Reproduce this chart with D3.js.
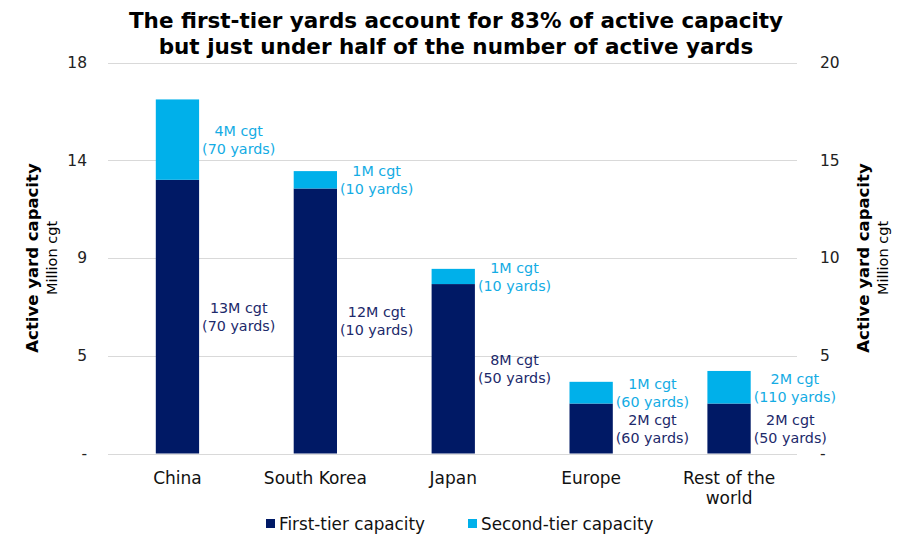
<!DOCTYPE html>
<html>
<head>
<meta charset="utf-8">
<script src="https://cdn.jsdelivr.net/npm/d3@7"></script>
<style>
  body { margin: 0; background: #fff; }
  svg { display: block; font-family: "DejaVu Sans", Verdana, sans-serif; }
</style>
</head>
<body>
<div id="chart"></div>
<script>
// Values (million cgt)
const categories = ["China", "South Korea", "Japan", "Europe", "Rest of the world"];
const firstTier = [12.6, 12.2, 7.8, 2.3, 2.3];
const secondTier = [3.7, 0.8, 0.7, 1.0, 1.5];
const firstLabels = ["13M cgt", "12M cgt", "8M cgt", "2M cgt", "2M cgt"];
const firstYards = ["(70 yards)", "(10 yards)", "(50 yards)", "(60 yards)", "(50 yards)"];
const secondLabels = ["4M cgt", "1M cgt", "1M cgt", "1M cgt", "2M cgt"];
const secondYards = ["(70 yards)", "(10 yards)", "(10 yards)", "(60 yards)", "(110 yards)"];
const leftTicks = [0, 4.5, 9, 13.5, 18];
const rightTicks = [0, 5, 10, 15, 20];
const seriesNames = ["First-tier capacity", "Second-tier capacity"];

const W = 903, H = 538;
const darkBlue = "#001965";
const lightBlue = "#00b0ea";
const darkText = "#1d2a6b";
const lightText = "#14ace4";

const svg = d3.select("#chart").append("svg")
  .attr("width", W)
  .attr("height", H);

const x = d3.scaleBand()
  .domain(categories)
  .range([108.5, 798])
  .paddingInner(0.686)
  .paddingOuter(0.343);

const yLeft = d3.scaleLinear().domain([0, 18]).range([453.5, 62.5]);
const yRight = d3.scaleLinear().domain([0, 20]).range([453.5, 62.5]);

// Title
const title = svg.append("text")
  .attr("x", 456)
  .attr("text-anchor", "middle")
  .attr("font-weight", "bold")
  .attr("font-size", 21.5)
  .attr("fill", "#000");
title.append("tspan").attr("x", 456).attr("y", 28)
  .text("The first-tier yards account for 83% of active capacity");
title.append("tspan").attr("x", 456).attr("y", 54)
  .text("but just under half of the number of active yards");

// Gridlines
svg.append("g")
  .selectAll("line")
  .data(leftTicks)
  .join("line")
  .attr("x1", 108)
  .attr("x2", 797)
  .attr("y1", d => Math.round(yLeft(d)) + 0.5)
  .attr("y2", d => Math.round(yLeft(d)) + 0.5)
  .attr("stroke", "#d9d9d9")
  .attr("stroke-width", 1);

// Left axis
const leftAxis = svg.append("g")
  .attr("transform", "translate(94,0)")
  .call(d3.axisLeft(yLeft).tickValues(leftTicks).tickSize(0).tickPadding(7)
    .tickFormat(d => d === 0 ? "-" : Math.round(d)));
leftAxis.select(".domain").remove();
leftAxis.selectAll("text")
  .attr("font-family", "DejaVu Sans, Verdana, sans-serif")
  .attr("font-size", 15.5)
  .attr("fill", "#222");

// Right axis
const rightAxis = svg.append("g")
  .attr("transform", "translate(813,0)")
  .call(d3.axisRight(yRight).tickValues(rightTicks).tickSize(0).tickPadding(7)
    .tickFormat(d => d === 0 ? "-" : d));
rightAxis.select(".domain").remove();
rightAxis.selectAll("text")
  .attr("font-family", "DejaVu Sans, Verdana, sans-serif")
  .attr("font-size", 15.5)
  .attr("fill", "#222");

// Axis titles
function axisTitle(xBold, xReg) {
  const cy = (yLeft(0) + yLeft(18)) / 2;
  svg.append("text")
    .attr("transform", `translate(${xBold},${cy}) rotate(-90)`)
    .attr("text-anchor", "middle")
    .attr("font-weight", "bold")
    .attr("font-size", 16.5)
    .text("Active yard capacity");
  svg.append("text")
    .attr("transform", `translate(${xReg},${cy}) rotate(-90)`)
    .attr("text-anchor", "middle")
    .attr("font-size", 14.5)
    .text("Million cgt");
}
axisTitle(38, 57);
axisTitle(869, 888);

// Bars
const rows = categories.map((c, i) => ({
  cat: c,
  first: firstTier[i],
  second: secondTier[i],
  fl: [firstLabels[i], firstYards[i]],
  sl: [secondLabels[i], secondYards[i]]
}));

const bars = svg.append("g");
bars.selectAll("rect.first")
  .data(rows)
  .join("rect")
  .attr("class", "first")
  .attr("x", d => x(d.cat))
  .attr("width", x.bandwidth())
  .attr("y", d => yLeft(d.first))
  .attr("height", d => yLeft(0) - yLeft(d.first))
  .attr("fill", darkBlue);

bars.selectAll("rect.second")
  .data(rows)
  .join("rect")
  .attr("class", "second")
  .attr("x", d => x(d.cat))
  .attr("width", x.bandwidth())
  .attr("y", d => yLeft(d.first + d.second))
  .attr("height", d => yLeft(d.first) - yLeft(d.first + d.second))
  .attr("fill", lightBlue);

// Data labels, to the right of each segment, centred on it
function addLabel(lines, midValue, barRight, color) {
  const cy = yLeft(midValue);
  const t = svg.append("text")
    .attr("text-anchor", "middle")
    .attr("font-size", 14.3)
    .attr("fill", color);
  lines.forEach((ln, k) => {
    t.append("tspan")
      .attr("y", cy + (k === 0 ? -3.5 : 14.5))
      .text(ln);
  });
  let maxW = 0;
  t.selectAll("tspan").each(function() {
    maxW = Math.max(maxW, this.getComputedTextLength());
  });
  t.selectAll("tspan").attr("x", barRight + 3 + maxW / 2);
}

rows.forEach(d => {
  const right = x(d.cat) + x.bandwidth();
  addLabel(d.fl, d.first / 2, right, darkText);
  addLabel(d.sl, d.first + d.second / 2, right, lightText);
});

// Category labels
const xAxis = svg.append("g")
  .attr("transform", "translate(0,453.5)")
  .call(d3.axisBottom(x).tickSize(0).tickPadding(0).tickFormat(""));
xAxis.select(".domain").remove();
xAxis.selectAll(".tick").each(function(d) {
  const words = d === "Rest of the world" ? ["Rest of the", "world"] : [d];
  const t = d3.select(this).append("text")
    .attr("text-anchor", "middle")
    .attr("font-family", "DejaVu Sans, Verdana, sans-serif")
    .attr("font-size", 17)
    .attr("fill", "#111");
  words.forEach((w, k) => {
    t.append("tspan").attr("x", 0).attr("y", 30 + k * 20).text(w);
  });
});

// Legend
const legendX = [266, 468];
const legend = svg.append("g")
  .selectAll("g")
  .data(seriesNames)
  .join("g")
  .attr("transform", (d, i) => `translate(${legendX[i]},519)`);
legend.append("rect")
  .attr("width", 9)
  .attr("height", 9)
  .attr("fill", (d, i) => i === 0 ? darkBlue : lightBlue);
legend.append("text")
  .attr("x", 13)
  .attr("y", 11)
  .attr("font-size", 16.8)
  .attr("fill", "#111")
  .text(d => d);
</script>
</body>
</html>
